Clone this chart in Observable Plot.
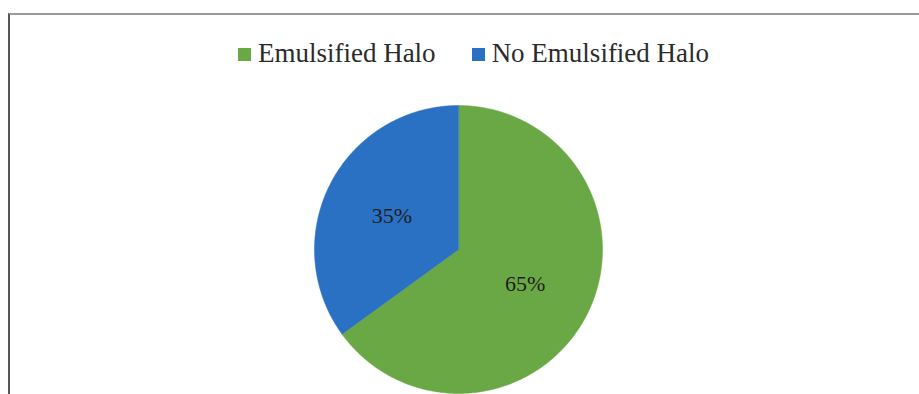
<!DOCTYPE html>
<html>
<head>
<meta charset="utf-8">
<script src="https://cdn.jsdelivr.net/npm/d3@7"></script>
<script src="https://cdn.jsdelivr.net/npm/@observablehq/plot@0.6"></script>
<style>
  html, body { margin: 0; padding: 0; background: #fff; }
  #page { position: relative; width: 919px; height: 394px; overflow: hidden; font-family: "Liberation Serif", "Times New Roman", serif; }
  #frame { position: absolute; left: 8px; top: 13px; width: 930px; height: 400px; border-top: 2px solid #9a9a9a; border-left: 2px solid #555; box-sizing: border-box; }
  #legend { position: absolute; left: 0; top: 35px; width: 919px; height: 36px; display: flex; justify-content: center; align-items: center; font-size: 27px; color: #2b2b2b; padding-left: 28px; box-sizing: border-box; }
  .item { display: flex; align-items: center; }
  .item + .item { margin-left: 36px; }
  .sw { width: 13px; height: 13px; margin-right: 7px; margin-top: 2px; }
  #chart { position: absolute; left: 0; top: 80px; }
</style>
</head>
<body>
<div id="page">
  <div id="frame"></div>
  <div id="legend"></div>
  <div id="chart"></div>
</div>
<script>
const categories = ["Emulsified Halo", "No Emulsified Halo"];
const values = [65, 35];
const labels = ["65%", "35%"];
const colors = ["#6aa845", "#2a70c3"];

// legend
const legend = document.getElementById("legend");
categories.forEach((c, i) => {
  const it = document.createElement("div");
  it.className = "item";
  const sw = document.createElement("div");
  sw.className = "sw";
  sw.style.background = colors[i];
  const t = document.createElement("span");
  t.textContent = c;
  it.appendChild(sw); it.appendChild(t);
  legend.appendChild(it);
});

// pie geometry in unit data space, derived from the values via d3.pie
const arcs = d3.pie().sort(null)(values);
const slices = [];
arcs.forEach((a, i) => {
  const name = categories[i];
  slices.push({name, x: 0, y: 0});
  const n = Math.max(2, Math.ceil((a.endAngle - a.startAngle) / (Math.PI / 360)));
  for (let k = 0; k <= n; k++) {
    const t = a.startAngle + (a.endAngle - a.startAngle) * k / n;
    slices.push({name, x: Math.sin(t), y: Math.cos(t)});
  }
});
const labelR = 0.52;
const labelData = arcs.map((a, i) => {
  const m = (a.startAngle + a.endAngle) / 2;
  return {label: labels[i], x: labelR * Math.sin(m), y: labelR * Math.cos(m)};
});

const cx = 458, cy = 169, r = 144;
const chart = Plot.plot({
  width: 919,
  height: 314,
  margin: 0,
  style: {background: "transparent", overflow: "visible"},
  x: {domain: [-1, 1], range: [cx - r, cx + r], axis: null},
  y: {domain: [-1, 1], range: [cy + r, cy - r], axis: null},
  color: {domain: categories, range: colors},
  marks: [
    Plot.line(slices, {x: "x", y: "y", z: "name", fill: "name", stroke: "name", strokeWidth: 0.5, curve: "linear-closed"}),
    Plot.text(labelData, {x: "x", y: "y", text: "label", fontSize: 22, fill: "#1e1e1e", fontFamily: "Liberation Serif, Times New Roman, serif"})
  ]
});
document.getElementById("chart").appendChild(chart);
</script>
</body>
</html>
